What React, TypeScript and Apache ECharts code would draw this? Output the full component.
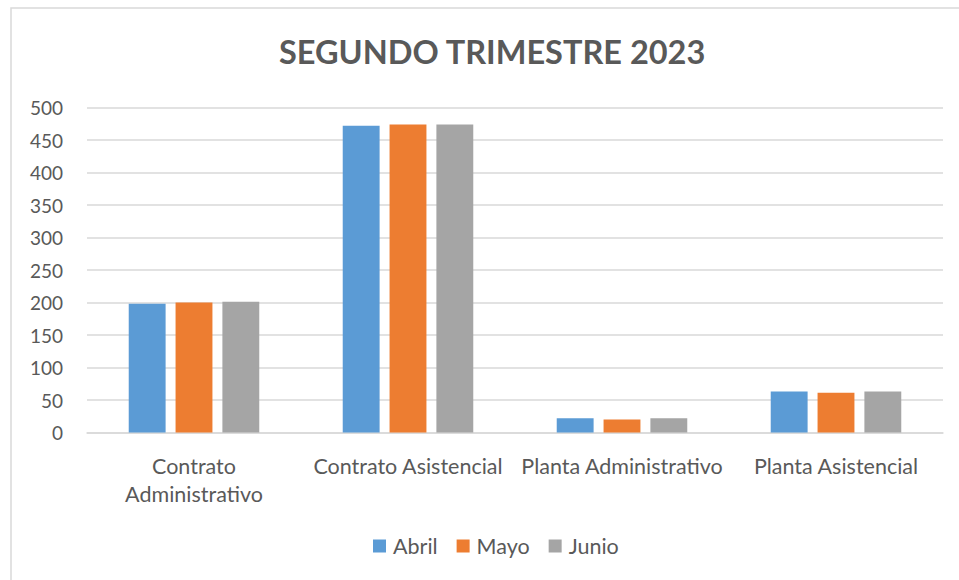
import React, { useEffect, useRef } from "react";
import * as echarts from "echarts";

const categories = ["Contrato\nAdministrativo", "Contrato Asistencial", "Planta Administrativo", "Planta Asistencial"];
const abril = [198, 472, 22, 63];
const mayo = [200, 474, 20, 61];
const junio = [201, 474, 22, 63];
const seriesNames = ["Abril", "Mayo", "Junio"];
const colors = ["#5b9bd5", "#ed7d31", "#a5a5a5"];

export default function App() {
  const ref = useRef<HTMLDivElement>(null);
  useEffect(() => {
    document.body.style.margin = "0";
    const chart = echarts.init(ref.current!, null, { renderer: "svg" });
    const font = "Lato, 'Open Sans', sans-serif";
    const data = [abril, mayo, junio];
    chart.setOption({
      animation: false,
      backgroundColor: "#ffffff",
      textStyle: { fontFamily: font },
      title: {
        text: "SEGUNDO TRIMESTRE 2023",
        left: 279,
        top: 35,
        padding: 0,
        textStyle: { fontFamily: font, fontSize: 32.5, fontWeight: "bold", color: "#595959" },
      },
      graphic: [
        {
          type: "rect",
          shape: { x: 11, y: 8, width: 1200, height: 1200 },
          style: { fill: "none", stroke: "#d9d9d9", lineWidth: 1.5 },
          silent: true,
        },
      ],
      legend: {
        bottom: 18,
        left: 368,
        itemWidth: 13,
        itemHeight: 13,
        itemGap: 19,
        icon: "rect",
        textStyle: { fontFamily: font, fontSize: 21.5, color: "#595959", padding: [0, 0, 0, 2] },
        data: seriesNames,
      },
      grid: { left: 87, right: 16, top: 107.5, bottom: 147.5 },
      xAxis: {
        type: "category",
        data: categories,
        axisLine: { lineStyle: { color: "#d9d9d9", width: 1.5 } },
        axisTick: { show: false },
        axisLabel: {
          fontFamily: font,
          fontSize: 21.5,
          color: "#595959",
          lineHeight: 28,
          margin: 19,
          interval: 0,
        },
      },
      yAxis: {
        type: "value",
        min: 0,
        max: 500,
        interval: 50,
        axisLine: { show: false },
        axisTick: { show: false },
        splitLine: { lineStyle: { color: "#d9d9d9", width: 1.5 } },
        axisLabel: { fontFamily: font, fontSize: 19, color: "#595959", margin: 24 },
      },
      series: seriesNames.map((name, i) => ({
        name,
        type: "bar",
        data: data[i],
        itemStyle: { color: colors[i] },
        barGap: "27%",
        barCategoryGap: "39%",
      })),
    });
    return () => chart.dispose();
  }, []);
  return <div ref={ref} style={{ width: 959, height: 580 }} />;
}
